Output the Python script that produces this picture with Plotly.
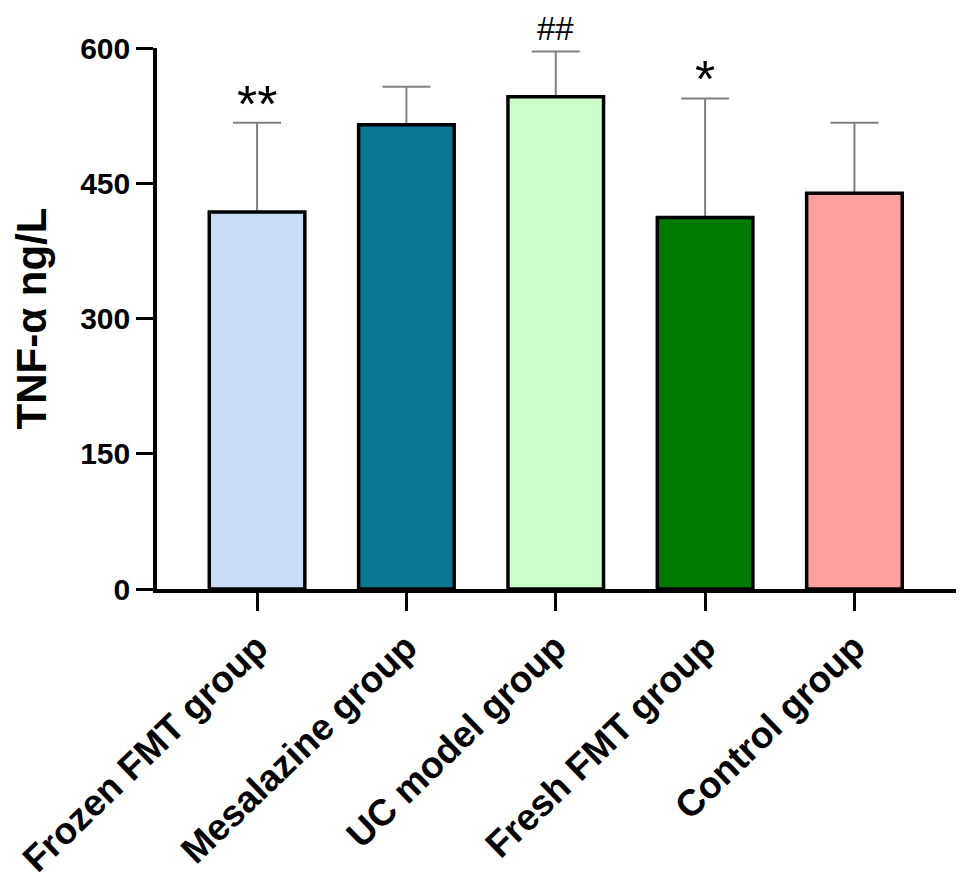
import plotly.graph_objects as go

# group data
groups = ["Frozen FMT group", "Mesalazine group", "UC model group", "Fresh FMT group", "Control group"]
means = [418, 515, 546, 412, 439]
sds = [99, 42, 50, 132, 78]
marks = ["**", "", "##", "*", ""]
colors = ["#c8dcf5", "#0a7a93", "#ccfecc", "#017a01", "#fea0a0"]

y_ticks = [0, 150, 300, 450, 600]

FONT = "Arial, Liberation Sans, sans-serif"

fig = go.Figure()

# filled bars carrying the (upper only) SD bars
fig.add_trace(go.Bar(
    x=groups, y=means,
    width=0.64,
    marker=dict(color=colors, line=dict(width=0)),
    error_y=dict(type="data", array=sds, arrayminus=[0] * len(sds),
                 color="#808080", thickness=2, width=24),
    showlegend=False, hoverinfo="skip",
))
# black outlines on top so the lower cap of the error bar is hidden
fig.add_trace(go.Bar(
    x=groups, y=means,
    width=0.64,
    marker=dict(color="rgba(0,0,0,0)", line=dict(color="black", width=3.5)),
    showlegend=False,
))

# significance marks above the error bars
for g, m, s, txt in zip(groups, means, sds, marks):
    if not txt:
        continue
    star = "*" in txt
    fig.add_annotation(
        x=g, y=m + s, xref="x", yref="y", text=txt, showarrow=False,
        yanchor="bottom", yshift=-12 if star else 3,
        font=dict(family=FONT, size=52 if star else 33, color="black"),
    )

# the page body adds an 8px offset, so the figure is 8px smaller than the window
fig.update_layout(
    width=960, height=881,
    margin=dict(l=149, r=12, t=40, b=300),
    barmode="overlay",
    plot_bgcolor="white", paper_bgcolor="white",
    font=dict(family=FONT, color="black"),
)

fig.update_xaxes(
    range=[-0.67, 4.68],
    automargin=False,
    showline=True, linecolor="black", linewidth=3.5,
    ticks="outside", ticklen=18, tickwidth=3, tickcolor="black",
    tickangle=-44,
    tickfont=dict(family=FONT, size=37, color="black", weight="bold"),
    showgrid=False, zeroline=False,
)

fig.update_yaxes(
    range=[0, 600],
    automargin=False,
    tickvals=y_ticks,
    showline=True, linecolor="black", linewidth=3.5,
    ticks="outside", ticklen=17, tickwidth=3, tickcolor="black",
    tickfont=dict(family=FONT, size=30, color="black", weight="bold"),
    title=dict(text="TNF-α ng/L", standoff=22,
               font=dict(family=FONT, size=42, color="black", weight="bold")),
    showgrid=False, zeroline=False,
)

fig.write_html("out.html")
